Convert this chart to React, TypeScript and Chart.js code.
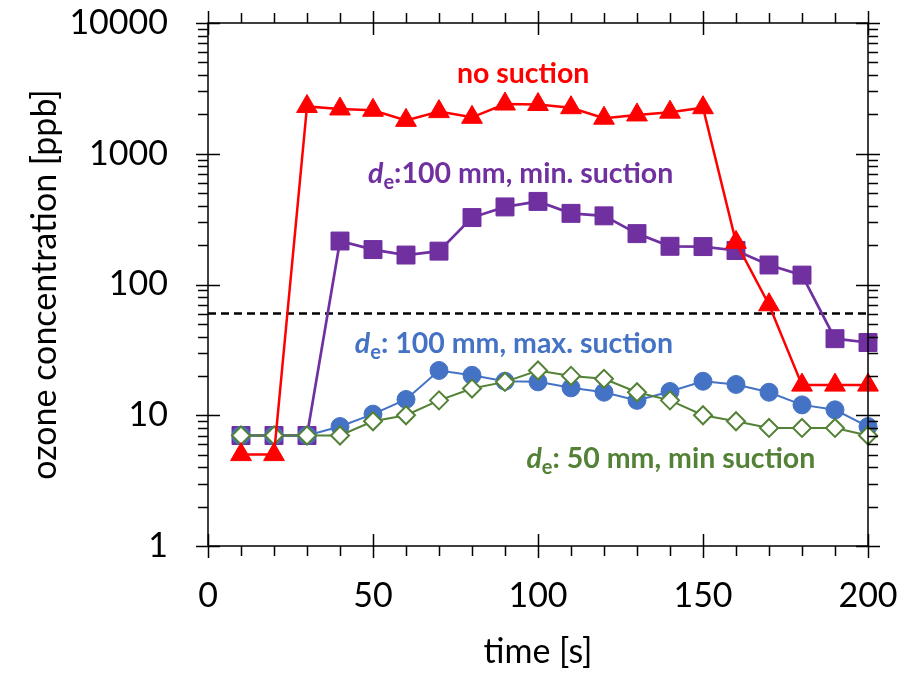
import React, { useEffect, useRef } from 'react';
import { Chart, registerables } from 'chart.js';

Chart.register(...registerables);

// ---- data ----
const TIME = [10, 20, 30, 40, 50, 60, 70, 80, 90, 100, 110, 120, 130, 140, 150, 160, 170, 180, 190, 200];
const NO_SUCTION = [5, 5, 2300, 2200, 2150, 1800, 2100, 1900, 2400, 2380, 2250, 1870, 1980, 2080, 2250, 210, 70, 17, 17, 17];
const DE100_MIN = [7, 7, 7, 215, 185, 168, 180, 325, 392, 432, 350, 335, 245, 196, 195, 182, 141, 118, 38.5, 36];
const DE100_MAX = [7, 7, 7, 8.2, 10.2, 13.2, 22, 20.2, 18.2, 18, 16.2, 15, 13, 15.2, 18.2, 17.2, 15, 12, 11, 8.2];
const DE50_MIN = [7, 7, 7, 7, 9, 10, 13, 16, 18, 22, 20, 19, 15, 13, 10, 9, 8, 8, 8, 7];
const LIMIT_PPB = 60;
const X_RANGE = [0, 200];
const Y_RANGE = [1, 10000];
const X_LABEL_STEP = 50;
const X_MINOR_STEP = 10;
const Y_DECADES = [1, 10, 100, 1000, 10000];

const RED = '#FF0000';
const PURPLE = '#7030A0';
const BLUE = '#4472C4';
const GREEN = '#538135';

type Part = { t: string; italic?: boolean; sub?: boolean };
const LABELS: { parts: Part[]; x: number; y: number; color: string; align: 'left' | 'center' }[] = [
  { parts: [{ t: 'no suction' }], x: 95.5, y: 3500, color: RED, align: 'center' },
  { parts: [{ t: 'd', italic: true }, { t: 'e', sub: true }, { t: ':100 mm, min. suction' }], x: 48.5, y: 600, color: PURPLE, align: 'left' },
  { parts: [{ t: 'd', italic: true }, { t: 'e', sub: true }, { t: ': 100 mm, max. suction' }], x: 44.5, y: 30, color: BLUE, align: 'left' },
  { parts: [{ t: 'd', italic: true }, { t: 'e', sub: true }, { t: ': 50 mm, min suction' }], x: 96.5, y: 3.95, color: GREEN, align: 'left' },
];

const FONT = 'Lato';

const framePlugin = {
  id: 'frameTicks',
  afterDatasetsDraw(chart: any) {
    const { ctx, chartArea: a, scales } = chart;
    const xs = scales.x;
    const ys = scales.y;
    ctx.save();
    ctx.strokeStyle = '#000';
    ctx.lineWidth = 1.5;
    ctx.strokeRect(a.left, a.top, a.right - a.left, a.bottom - a.top);
    const MAJ = 12;
    const MIN = 10;
    ctx.beginPath();
    for (let v = X_RANGE[0]; v <= X_RANGE[1]; v += X_MINOR_STEP) {
      const px = Math.round(xs.getPixelForValue(v)) + 0.5;
      const major = v % X_LABEL_STEP === 0;
      if (major) {
        ctx.moveTo(px, a.bottom - MAJ); ctx.lineTo(px, a.bottom + MAJ);
        ctx.moveTo(px, a.top - MAJ); ctx.lineTo(px, a.top + MAJ);
      } else {
        ctx.moveTo(px, a.bottom); ctx.lineTo(px, a.bottom + MIN);
        ctx.moveTo(px, a.top); ctx.lineTo(px, a.top - MIN);
      }
    }
    for (let i = 0; i < Y_DECADES.length; i++) {
      const d = Y_DECADES[i];
      const py = Math.round(ys.getPixelForValue(d)) + 0.5;
      ctx.moveTo(a.left - MAJ, py); ctx.lineTo(a.left + MAJ, py);
      ctx.moveTo(a.right - MAJ, py); ctx.lineTo(a.right + MAJ, py);
      if (i < Y_DECADES.length - 1) {
        for (let m = 2; m <= 9; m++) {
          const p = Math.round(ys.getPixelForValue(m * d)) + 0.5;
          ctx.moveTo(a.left - MIN, p); ctx.lineTo(a.left, p);
          ctx.moveTo(a.right, p); ctx.lineTo(a.right + MIN, p);
        }
      }
    }
    ctx.stroke();
    ctx.restore();
  },
  afterDraw(chart: any) {
    const { ctx, scales } = chart;
    const xs = scales.x;
    const ys = scales.y;
    ctx.save();
    ctx.textBaseline = 'alphabetic';
    ctx.textAlign = 'left';
    const size = 28.5;
    const fontOf = (p: Part) =>
      `${p.italic ? 'italic ' : ''}bold ${p.sub ? 20 : size}px ${FONT}`;
    for (const L of LABELS) {
      let total = 0;
      for (const p of L.parts) { ctx.font = fontOf(p); total += ctx.measureText(p.t).width; }
      let x = xs.getPixelForValue(L.x);
      if (L.align === 'center') x -= total / 2;
      const y = ys.getPixelForValue(L.y);
      ctx.fillStyle = L.color;
      for (const p of L.parts) {
        ctx.font = fontOf(p);
        ctx.fillText(p.t, x, p.sub ? y + 6 : y);
        x += ctx.measureText(p.t).width;
      }
    }
    ctx.restore();
  },
};

function pts(values: number[]) {
  return TIME.map((t, i) => ({ x: t, y: values[i] }));
}

export default function App() {
  const ref = useRef<HTMLCanvasElement | null>(null);
  useEffect(() => {
    if (!ref.current) return;
    const chart = new Chart(ref.current, {
      type: 'line',
      data: {
        datasets: [
          {
            label: 'no suction', data: pts(NO_SUCTION), borderColor: RED, backgroundColor: RED,
            borderWidth: 2.5, pointStyle: 'triangle', pointRadius: 12, pointBorderWidth: 1,
            pointBackgroundColor: RED, pointBorderColor: RED, clip: false,
          },
          {
            label: 'de 50 mm min', data: pts(DE50_MIN), borderColor: GREEN, backgroundColor: '#fff',
            borderWidth: 2, pointStyle: 'rectRot', pointRadius: 9, pointBorderWidth: 2,
            pointBackgroundColor: '#fff', pointBorderColor: GREEN, clip: false,
          },
          {
            label: 'de 100 mm max', data: pts(DE100_MAX), borderColor: BLUE, backgroundColor: BLUE,
            borderWidth: 2, pointStyle: 'circle', pointRadius: 9, pointBorderWidth: 1,
            pointBackgroundColor: BLUE, pointBorderColor: BLUE, clip: false,
          },
          {
            label: 'de 100 mm min', data: pts(DE100_MIN), borderColor: PURPLE, backgroundColor: PURPLE,
            borderWidth: 2.7, pointStyle: 'rect', pointRadius: 12.7, pointBorderWidth: 1,
            pointBackgroundColor: PURPLE, pointBorderColor: PURPLE, clip: false,
          },
          {
            label: 'limit', data: [{ x: X_RANGE[0], y: LIMIT_PPB }, { x: X_RANGE[1], y: LIMIT_PPB }],
            borderColor: '#000', borderWidth: 2.5, borderDash: [8, 5], pointRadius: 0,
          },
        ],
      },
      options: {
        responsive: false,
        animation: false,
        devicePixelRatio: 1,
        layout: { padding: { top: 23, right: 36, left: 0, bottom: 0 } },
        plugins: { legend: { display: false }, tooltip: { enabled: false } },
        scales: {
          x: {
            type: 'linear', min: X_RANGE[0], max: X_RANGE[1],
            afterFit: (s: any) => { s.height = 127; s.paddingLeft = 0; s.paddingRight = 0; },
            grid: { display: false, drawTicks: false },
            border: { display: false },
            ticks: {
              stepSize: X_MINOR_STEP, autoSkip: false, maxRotation: 0, padding: 30,
              color: '#000', font: { family: FONT, size: 34 },
              callback: (v: any) => (Number(v) % X_LABEL_STEP === 0 ? String(v) : ''),
            },
            title: {
              display: true, text: 'time [s]', color: '#000',
              font: { family: FONT, size: 34 }, padding: { top: 0, bottom: 1 },
            },
          },
          y: {
            type: 'logarithmic', min: Y_RANGE[0], max: Y_RANGE[1],
            afterFit: (s: any) => { s.width = 208; s.paddingTop = 0; s.paddingBottom = 0; },
            grid: { display: false, drawTicks: false },
            border: { display: false },
            ticks: {
              autoSkip: false, padding: 40, color: '#000', font: { family: FONT, size: 34 },
              callback: (v: any) => (Y_DECADES.includes(Number(v)) ? String(v) : ''),
            },
            title: {
              display: true, text: 'ozone concentration [ppb]', color: '#000',
              font: { family: FONT, size: 34 }, padding: { top: 25, bottom: 0 },
            },
          },
        },
      },
      plugins: [framePlugin],
    } as any);
    return () => chart.destroy();
  }, []);
  return (
    <div style={{ position: 'fixed', left: 0, top: 0, width: 904, height: 673, background: '#fff' }}>
      <canvas ref={ref} width={904} height={673} />
    </div>
  );
}
